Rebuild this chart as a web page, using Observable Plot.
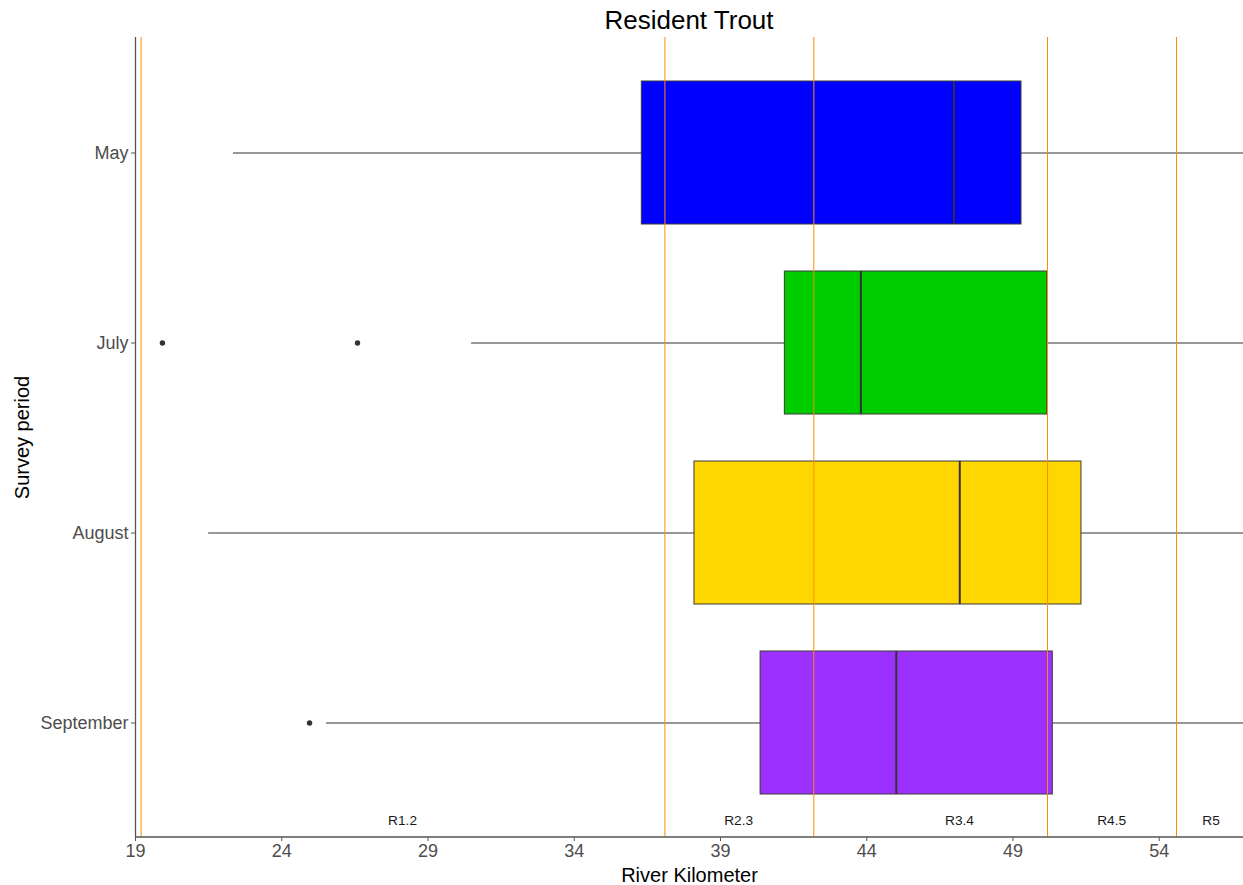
<!DOCTYPE html>
<html>
<head>
<meta charset="utf-8">
<script src="https://cdn.jsdelivr.net/npm/d3@7"></script>
<script src="https://cdn.jsdelivr.net/npm/@observablehq/plot@0.6"></script>
<style>
  body { margin: 0; background: #fff; font-family: "Liberation Sans", Arial, sans-serif; }
  #title { height: 37px; padding-left: 135px; text-align: center; font-size: 26px; line-height: 40px; color: #000; }
</style>
</head>
<body>
<div id="title">Resident Trout</div>
<div id="chart"></div>
<script>
const months = ["May", "July", "August", "September"];
const q1 = [36.31, 41.20, 38.11, 40.37];
const median = [46.98, 43.80, 47.18, 45.01];
const q3 = [49.29, 50.17, 51.34, 50.36];
const whiskerLow = [22.35, 30.49, 21.5, 25.53];
const whiskerHigh = [57.2, 57.2, 57.2, 57.2];
const boxColors = ["#0000FF", "#00CD00", "#FFD700", "#9B30FF"];
const outlierMonth = ["July", "July", "September"];
const outlierKm = [19.92, 26.59, 24.95];
const reachBreaks = [19.19, 37.1, 42.19, 50.18, 54.59];
const reachLabels = ["R1.2", "R2.3", "R3.4", "R4.5", "R5"];
const reachLabelKm = [28.13, 39.62, 47.17, 52.37, 55.77];
const xTicks = [19, 24, 29, 34, 39, 44, 49, 54];

const boxes = months.map((m, i) => ({month: m, q1: q1[i], median: median[i], q3: q3[i], lo: whiskerLow[i], hi: whiskerHigh[i]}));
const outliers = outlierKm.map((v, i) => ({month: outlierMonth[i], km: v}));
const reaches = reachLabels.map((l, i) => ({label: l, km: reachLabelKm[i]}));

// bottom axis line along the frame
function bottomAxisLine(index, scales, values, dimensions) {
  const {width, height, marginLeft, marginRight, marginBottom} = dimensions;
  const y = height - marginBottom;
  const line = document.createElementNS("http://www.w3.org/2000/svg", "line");
  line.setAttribute("x1", marginLeft);
  line.setAttribute("x2", width - marginRight);
  line.setAttribute("y1", y);
  line.setAttribute("y2", y);
  line.setAttribute("stroke", "#555");
  line.setAttribute("stroke-width", 1.3);
  return line;
}

const chart = Plot.plot({
  width: 1243,
  height: 848,
  marginTop: 0,
  marginBottom: 48,
  marginLeft: 135,
  marginRight: 0,
  style: {fontFamily: "'Liberation Sans', Arial, sans-serif", color: "#4d4d4d", background: "#fff"},
  x: {domain: [19, 56.88], ticks: xTicks},
  y: {domain: months, paddingInner: 0.25, paddingOuter: 0.225},
  color: {domain: months, range: boxColors},
  marks: [
    Plot.ruleY(boxes, {y: "month", x1: "lo", x2: "hi", stroke: "#333", strokeWidth: 1.1, clip: true}),
    Plot.barX(boxes, {y: "month", x1: "q1", x2: "q3", fill: "month", stroke: "#3a3a3a", strokeWidth: 1}),
    Plot.tickX(boxes, {y: "month", x: "median", stroke: "#333", strokeWidth: 2}),
    Plot.dot(outliers, {y: "month", x: "km", r: 2.7, fill: "#333", stroke: "none"}),
    Plot.ruleX(reachBreaks, {stroke: "#FF8C00", strokeWidth: 1}),
    Plot.text(reaches, {x: "km", text: "label", frameAnchor: "bottom", lineAnchor: "middle", dy: -17, fontSize: 13.7, fill: "#1a1a1a"}),
    Plot.ruleX([19], {stroke: "#555", strokeWidth: 1.3}),
    bottomAxisLine,
    Plot.axisX({ticks: xTicks, tickSize: 4, tickPadding: 3, fontSize: 18, label: null, stroke: "#555"}),
    Plot.axisY({tickSize: 4, tickPadding: 3, fontSize: 18, label: null, stroke: "#555"}),
    Plot.text(["River Kilometer"], {frameAnchor: "bottom", lineAnchor: "middle", dy: 38, fontSize: 20, fill: "#000"}),
    Plot.text(["Survey period"], {frameAnchor: "left", textAnchor: "middle", lineAnchor: "middle", dx: -113, rotate: -90, fontSize: 20, fill: "#000"})
  ]
});
document.getElementById("chart").appendChild(chart);
</script>
</body>
</html>
